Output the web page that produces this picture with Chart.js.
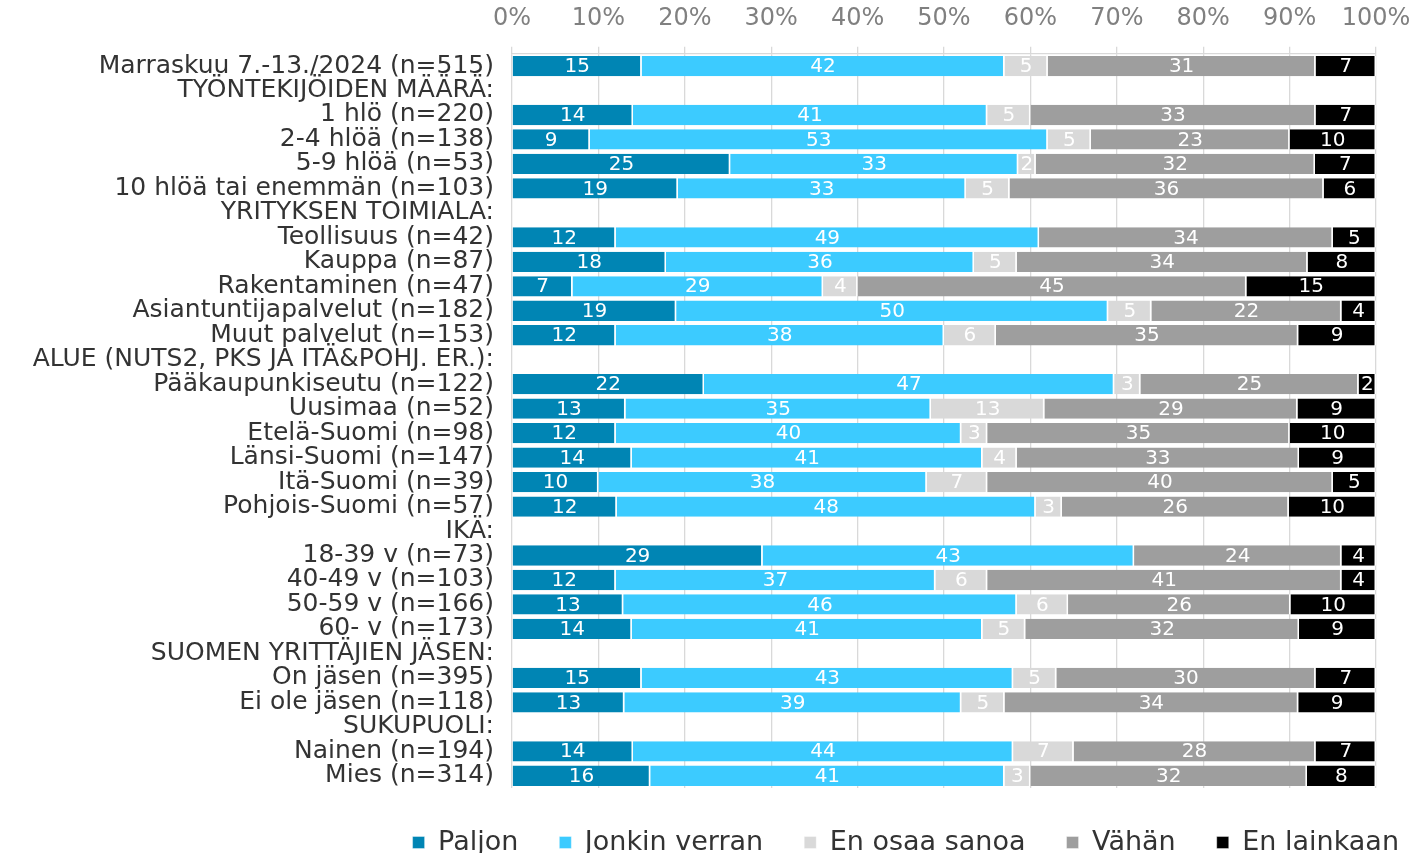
<!DOCTYPE html>
<html>
<head>
<meta charset="utf-8">
<script src="https://cdn.jsdelivr.net/npm/chart.js@4"></script>
<style>
  html, body { margin: 0; padding: 0; background: #fff; }
  #wrap { width: 1415px; height: 853px; }
</style>
</head>
<body>
<div id="wrap"><canvas id="chart" width="1415" height="853"></canvas></div>
<script>
// rivit (otsikkorivit ilman arvoja)
const rowLabels = [
  'Marraskuu 7.-13./2024 (n=515)',
  'TYÖNTEKIJÖIDEN MÄÄRÄ:',
  '1 hlö (n=220)',
  '2-4 hlöä (n=138)',
  '5-9 hlöä (n=53)',
  '10 hlöä tai enemmän (n=103)',
  'YRITYKSEN TOIMIALA:',
  'Teollisuus (n=42)',
  'Kauppa (n=87)',
  'Rakentaminen (n=47)',
  'Asiantuntijapalvelut (n=182)',
  'Muut palvelut (n=153)',
  'ALUE (NUTS2, PKS JA ITÄ&POHJ. ER.):',
  'Pääkaupunkiseutu (n=122)',
  'Uusimaa (n=52)',
  'Etelä-Suomi (n=98)',
  'Länsi-Suomi (n=147)',
  'Itä-Suomi (n=39)',
  'Pohjois-Suomi (n=57)',
  'IKÄ:',
  '18-39 v (n=73)',
  '40-49 v (n=103)',
  '50-59 v (n=166)',
  '60- v (n=173)',
  'SUOMEN YRITTÄJIEN JÄSEN:',
  'On jäsen (n=395)',
  'Ei ole jäsen (n=118)',
  'SUKUPUOLI:',
  'Nainen (n=194)',
  'Mies (n=314)'
];

const seriesNames = ['Paljon', 'Jonkin verran', 'En osaa sanoa', 'Vähän', 'En lainkaan'];

const paljon       = [15,null,14,9,25,19,null,12,18,7,19,12,null,22,13,12,14,10,12,null,29,12,13,14,null,15,13,null,14,16];
const jonkinVerran = [42,null,41,53,33,33,null,49,36,29,50,38,null,47,35,40,41,38,48,null,43,37,46,41,null,43,39,null,44,41];
const enOsaaSanoa  = [5,null,5,5,2,5,null,null,5,4,5,6,null,3,13,3,4,7,3,null,null,6,6,5,null,5,5,null,7,3];
const vahan        = [31,null,33,23,32,36,null,34,34,45,22,35,null,25,29,35,33,40,26,null,24,41,26,32,null,30,34,null,28,32];
const enLainkaan   = [7,null,7,10,7,6,null,5,8,15,4,9,null,2,9,10,9,5,10,null,4,4,10,9,null,7,9,null,7,8];

const xTicks = [0,10,20,30,40,50,60,70,80,90,100];

const colors = ['#0085B4', '#3CCBFF', '#D9D9D9', '#9E9E9E', '#000000'];
const FONT = "'DejaVu Sans', Verdana, sans-serif";

const raw = [paljon, jonkinVerran, enOsaaSanoa, vahan, enLainkaan];

// 100 % pinottu: skaalataan rivi summaan 100
const rowSums = rowLabels.map((_, i) => raw.reduce((s, arr) => s + (arr[i] || 0), 0));
const datasets = raw.map((arr, k) => ({
  label: seriesNames[k],
  data: arr.map((v, i) => v == null ? null : v / rowSums[i] * 100),
  rawValues: arr,
  backgroundColor: colors[k],
  borderColor: '#ffffff',
  borderWidth: { left: 0, right: 1.5, top: 0, bottom: 0 },
  borderSkipped: false,
  barPercentage: 0.83,
  categoryPercentage: 1
}));

// arvot palkkien sisään
const valueLabels = {
  id: 'valueLabels',
  afterDatasetsDraw(chart) {
    const ctx = chart.ctx;
    ctx.save();
    ctx.font = '20px ' + FONT;
    ctx.fillStyle = '#ffffff';
    ctx.textAlign = 'center';
    ctx.textBaseline = 'middle';
    chart.data.datasets.forEach((ds, di) => {
      const meta = chart.getDatasetMeta(di);
      meta.data.forEach((el, i) => {
        const v = ds.rawValues[i];
        if (v == null) return;
        ctx.fillText(String(v), (el.x + el.base) / 2, el.y + 1);
      });
    });
    ctx.restore();
  }
};

new Chart(document.getElementById('chart'), {
  type: 'bar',
  data: { labels: rowLabels, datasets: datasets },
  plugins: [valueLabels],
  options: {
    indexAxis: 'y',
    responsive: false,
    animation: false,
    layout: { padding: { left: 0, right: -25, top: -10, bottom: -13 } },
    scales: {
      x: {
        position: 'top',
        stacked: true,
        min: 0,
        max: 100,
        afterBuildTicks: (scale) => { scale.ticks = xTicks.map(v => ({ value: v })); },
        afterFit: (scale) => { scale.paddingRight = 39; },
        ticks: {
          callback: (v) => v + '%',
          color: '#808080',
          font: { family: FONT, size: 24 },
          padding: 14,
          maxRotation: 0
        },
        grid: { color: '#d9d9d9', lineWidth: 1.3, tickLength: 7 },
        border: { color: '#d9d9d9', width: 1.3 }
      },
      y: {
        stacked: true,
        afterFit: (scale) => { scale.width = 512; },
        ticks: {
          autoSkip: false,
          color: '#333333',
          font: { family: FONT, size: 25 },
          padding: 10
        },
        grid: { display: false },
        border: { display: false }
      }
    },
    plugins: {
      legend: {
        position: 'bottom',
        align: 'end',
        labels: {
          boxWidth: 12,
          boxHeight: 12,
          padding: 41,
          color: '#333333',
          font: { family: FONT, size: 27 }
        }
      },
      tooltip: { enabled: false }
    }
  }
});
</script>
</body>
</html>
